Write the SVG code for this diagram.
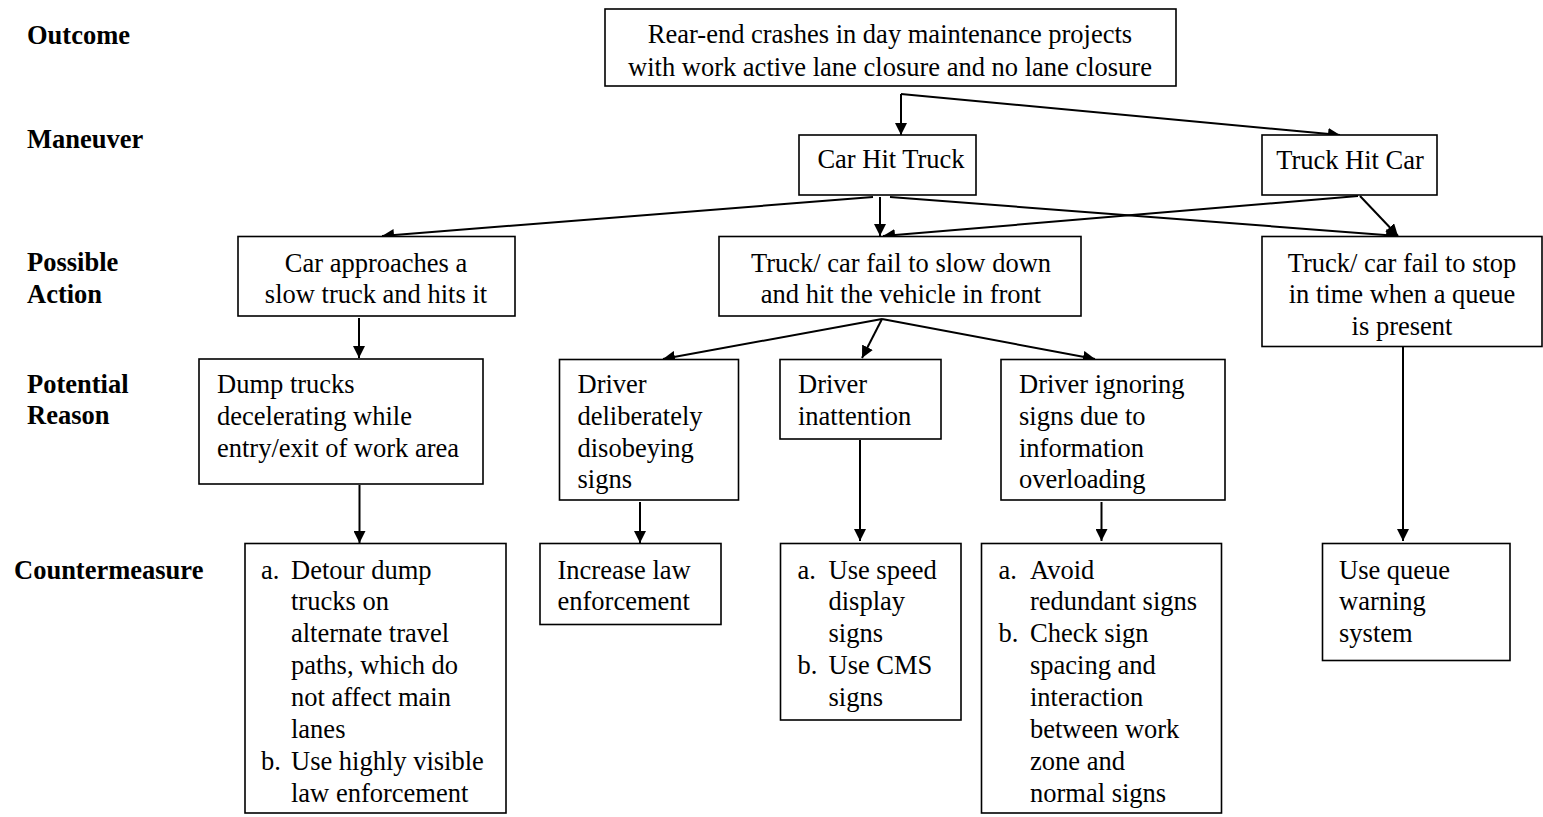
<svg xmlns="http://www.w3.org/2000/svg" width="1543" height="817" viewBox="0 0 1543 817">
<style>
text{font-family:"Liberation Serif","Times New Roman",serif;font-size:26.5px;fill:#000}
.lbl{font-weight:bold}
.c{text-anchor:middle}
rect{fill:#fff;stroke:#000;stroke-width:1.6}
.conn path{fill:none;stroke:#000;stroke-width:2;marker-end:url(#ah)}
</style>
<defs>
<marker id="ah" markerUnits="userSpaceOnUse" markerWidth="12" markerHeight="12" refX="12" refY="6" orient="auto">
<path d="M0,0 L12,6 L0,12 z" fill="#000"/>
</marker>
</defs>
<rect x="0" y="0" width="1543" height="817" style="stroke:none"/>
<g id="labels">
<text class="lbl" x="27" y="44">Outcome</text>
<text class="lbl" x="27" y="148">Maneuver</text>
<text class="lbl" x="27" y="271">Possible</text>
<text class="lbl" x="27" y="303">Action</text>
<text class="lbl" x="27" y="393">Potential</text>
<text class="lbl" x="27" y="424">Reason</text>
<text class="lbl" x="14" y="579">Countermeasure</text>
</g>
<g class="conn" id="connectors">
<path d="M901,94 L901,135"/>
<path d="M901,94 L1340,135"/>
<path d="M873,197 L382,236"/>
<path d="M880,197 L880,236"/>
<path d="M890,197 L1398,236"/>
<path d="M1358,196 L883,236"/>
<path d="M1360,196 L1398,236"/>
<path d="M359,318 L359,358"/>
<path d="M882,319 L663,359"/>
<path d="M882,319 L862,358"/>
<path d="M882,319 L1095,359"/>
<path d="M1403,339 L1403,541"/>
<path d="M359.5,485 L359.5,543"/>
<path d="M640,502 L640,543"/>
<path d="M860,440 L860,541"/>
<path d="M1101.5,502 L1101.5,541"/>
</g>
<g id="outcome">
<rect x="605" y="9" width="571" height="77"/>
<text class="c" x="890" y="43">Rear-end crashes in day maintenance projects</text>
<text class="c" x="890" y="76">with work active lane closure and no lane closure</text>
</g>
<g id="car-hit-truck">
<rect x="799" y="135" width="177" height="60"/>
<text class="c" x="891" y="168">Car Hit Truck</text>
</g>
<g id="truck-hit-car">
<rect x="1262" y="135" width="175" height="60"/>
<text class="c" x="1350" y="169">Truck Hit Car</text>
</g>
<g id="car-approaches">
<rect x="238" y="236.5" width="277" height="79.5"/>
<text class="c" x="376" y="272">Car approaches a</text>
<text class="c" x="376" y="303">slow truck and hits it</text>
</g>
<g id="fail-slow-down">
<rect x="719" y="236.5" width="362" height="79.5"/>
<text class="c" x="901" y="272">Truck/ car fail to slow down</text>
<text class="c" x="901" y="303">and hit the vehicle in front</text>
</g>
<g id="fail-stop">
<rect x="1262" y="236.5" width="280" height="110"/>
<text class="c" x="1402" y="272">Truck/ car fail to stop</text>
<text class="c" x="1402" y="303">in time when a queue</text>
<text class="c" x="1402" y="335">is present</text>
</g>
<g id="dump-trucks">
<rect x="199" y="359" width="284" height="125"/>
<text x="217" y="393">Dump trucks</text>
<text x="217" y="425">decelerating while</text>
<text x="217" y="457">entry/exit of work area</text>
</g>
<g id="deliberately">
<rect x="559.5" y="359.5" width="179" height="140.5"/>
<text x="577.5" y="393">Driver</text>
<text x="577.5" y="425">deliberately</text>
<text x="577.5" y="457">disobeying</text>
<text x="577.5" y="488">signs</text>
</g>
<g id="inattention">
<rect x="780" y="359.5" width="161" height="79.5"/>
<text x="798" y="393">Driver</text>
<text x="798" y="425">inattention</text>
</g>
<g id="ignoring">
<rect x="1001" y="359.5" width="224" height="140.5"/>
<text x="1019" y="393">Driver ignoring</text>
<text x="1019" y="425">signs due to</text>
<text x="1019" y="457">information</text>
<text x="1019" y="488">overloading</text>
</g>
<g id="detour">
<rect x="245" y="543.5" width="261" height="269.5"/>
<text x="261" y="578.5">a.</text>
<text x="291" y="578.5">Detour dump</text>
<text x="291" y="610.4">trucks on</text>
<text x="291" y="642.3">alternate travel</text>
<text x="291" y="674.2">paths, which do</text>
<text x="291" y="706.1">not affect main</text>
<text x="291" y="738">lanes</text>
<text x="261" y="769.9">b.</text>
<text x="291" y="769.9">Use highly visible</text>
<text x="291" y="801.8">law enforcement</text>
</g>
<g id="increase-law">
<rect x="540" y="543.5" width="181" height="81"/>
<text x="557.5" y="578.5">Increase law</text>
<text x="557.5" y="610.4">enforcement</text>
</g>
<g id="speed-signs">
<rect x="780.5" y="543.5" width="180.5" height="176.5"/>
<text x="797.5" y="578.5">a.</text>
<text x="828.5" y="578.5">Use speed</text>
<text x="828.5" y="610.4">display</text>
<text x="828.5" y="642.3">signs</text>
<text x="797.5" y="674.2">b.</text>
<text x="828.5" y="674.2">Use CMS</text>
<text x="828.5" y="706.1">signs</text>
</g>
<g id="avoid-signs">
<rect x="981.5" y="543.5" width="240" height="269.5"/>
<text x="998.5" y="578.5">a.</text>
<text x="1030" y="578.5">Avoid</text>
<text x="1030" y="610.4">redundant signs</text>
<text x="998.5" y="642.3">b.</text>
<text x="1030" y="642.3">Check sign</text>
<text x="1030" y="674.2">spacing and</text>
<text x="1030" y="706.1">interaction</text>
<text x="1030" y="738">between work</text>
<text x="1030" y="769.9">zone and</text>
<text x="1030" y="801.8">normal signs</text>
</g>
<g id="queue">
<rect x="1322.5" y="543.5" width="187.5" height="117"/>
<text x="1339" y="578.5">Use queue</text>
<text x="1339" y="610.4">warning</text>
<text x="1339" y="642.3">system</text>
</g>
</svg>
